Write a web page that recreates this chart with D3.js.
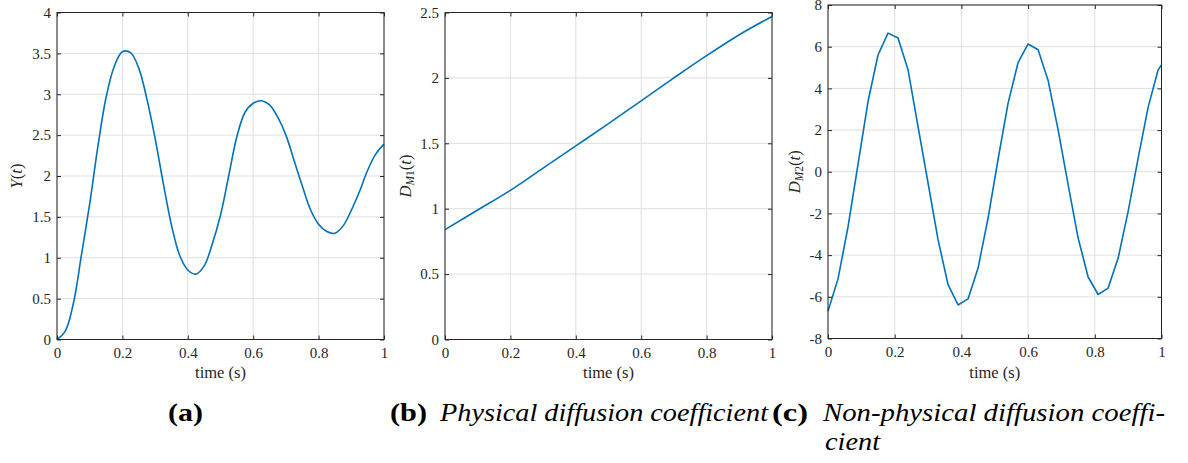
<!DOCTYPE html>
<html>
<head>
<meta charset="utf-8">
<script src="https://cdnjs.cloudflare.com/ajax/libs/d3/7.8.5/d3.min.js"></script>
<style>
  body { margin: 0; background: #fff; }
  svg { display: block; }
  text { font-family: "Liberation Serif", serif; fill: #262626; }
</style>
</head>
<body>
<div id="chart"></div>
<script>
// values
var timeA = [0, 0.025, 0.05, 0.075, 0.1, 0.125, 0.15, 0.175, 0.2, 0.225, 0.25, 0.275, 0.3, 0.325, 0.35, 0.375,
             0.4, 0.425, 0.45, 0.475, 0.5, 0.525, 0.55, 0.575, 0.6, 0.625, 0.65, 0.675, 0.7, 0.725, 0.75, 0.775,
             0.8, 0.825, 0.85, 0.875, 0.9, 0.925, 0.95, 0.975, 1];
var yOfT = [0, 0.1, 0.44, 1.04, 1.66, 2.36, 2.96, 3.34, 3.52, 3.51, 3.32, 2.94, 2.46, 1.91, 1.40, 1.03,
            0.85, 0.80, 0.90, 1.17, 1.52, 2.0, 2.48, 2.78, 2.89, 2.92, 2.87, 2.72, 2.50, 2.19, 1.88, 1.59,
            1.41, 1.32, 1.30, 1.39, 1.58, 1.81, 2.07, 2.27, 2.39];

var timeB = [0, 0.1, 0.2, 0.3, 0.4, 0.5, 0.6, 0.7, 0.8, 0.9, 1];
var dM1 = [0.84, 0.99, 1.14, 1.31, 1.48, 1.65, 1.825, 2.0, 2.17, 2.33, 2.47];

var timeC = [0, 0.03, 0.06, 0.09, 0.12, 0.15, 0.18, 0.21, 0.24, 0.27, 0.30, 0.33, 0.36, 0.39, 0.42, 0.45,
             0.48, 0.51, 0.54, 0.57, 0.60, 0.63, 0.66, 0.69, 0.72, 0.75, 0.78, 0.81, 0.84, 0.87, 0.90, 0.93,
             0.96, 0.99, 1];
var dM2 = [-6.69, -5.14, -2.65, 0.35, 3.37, 5.6, 6.65, 6.42, 4.89, 2.17, -0.54, -3.26, -5.42, -6.39, -6.1, -4.62,
           -2.22, 0.6, 3.29, 5.24, 6.13, 5.85, 4.38, 2.01, -0.62, -3.18, -5.05, -5.89, -5.58, -4.14, -1.9, 0.65,
           3.1, 4.89, 5.13];

var timeTicks = [0, 0.2, 0.4, 0.6, 0.8, 1];
var ticksA = [0, 0.5, 1, 1.5, 2, 2.5, 3, 3.5, 4];
var ticksB = [0, 0.5, 1, 1.5, 2, 2.5];
var ticksC = [-8, -6, -4, -2, 0, 2, 4, 6, 8];

var width = 1188, height = 463;
var lineColor = "#0072bd";
var serif = "Liberation Serif";

var svg = d3.select("#chart").append("svg")
    .attr("width", width)
    .attr("height", height);

var panels = [
  {left: 57, right: 384, top: 12.5, bottom: 339.5, t: timeA, v: yOfT, yDom: [0, 4], yTicks: ticksA,
   smooth: true, labelX: 22, ylab: "Y"},
  {left: 445, right: 772, top: 12.5, bottom: 339.5, t: timeB, v: dM1, yDom: [0, 2.5], yTicks: ticksB,
   smooth: true, labelX: 411, ylab: "D", sub: "1"},
  {left: 828, right: 1161.5, top: 5, bottom: 338.5, t: timeC, v: dM2, yDom: [-8, 8], yTicks: ticksC,
   smooth: false, labelX: 800, ylab: "D", sub: "2"}
];

panels.forEach(function(p) {
  var x = d3.scaleLinear().domain([0, 1]).range([p.left, p.right]);
  var y = d3.scaleLinear().domain(p.yDom).range([p.bottom, p.top]);
  var g = svg.append("g");

  // grid
  g.selectAll(".vgrid").data(timeTicks).enter().append("line")
    .attr("x1", function(d) { return x(d); }).attr("x2", function(d) { return x(d); })
    .attr("y1", p.top).attr("y2", p.bottom)
    .attr("stroke", "#dfdfdf").attr("stroke-width", 1);
  g.selectAll(".hgrid").data(p.yTicks).enter().append("line")
    .attr("y1", function(d) { return y(d); }).attr("y2", function(d) { return y(d); })
    .attr("x1", p.left).attr("x2", p.right)
    .attr("stroke", "#dfdfdf").attr("stroke-width", 1);

  // data line
  var line = d3.line()
    .x(function(d, i) { return x(p.t[i]); })
    .y(function(d) { return y(d); })
    .curve(p.smooth ? d3.curveCatmullRom.alpha(0.5) : d3.curveLinear);
  g.append("path")
    .datum(p.v)
    .attr("d", line)
    .attr("fill", "none")
    .attr("stroke", lineColor)
    .attr("stroke-width", 1.6)
    .attr("stroke-linejoin", "round");

  // axes, ticks pointing inward on all four sides
  var fmt = function(d) { return String(d); };
  var bottom = g.append("g").attr("transform", "translate(0," + p.bottom + ")")
    .call(d3.axisBottom(x).tickValues(timeTicks).tickFormat(fmt).tickSizeInner(-4).tickSizeOuter(0).tickPadding(8));
  var left = g.append("g").attr("transform", "translate(" + p.left + ",0)")
    .call(d3.axisLeft(y).tickValues(p.yTicks).tickFormat(fmt).tickSizeInner(-4).tickSizeOuter(0).tickPadding(6));
  var top = g.append("g").attr("transform", "translate(0," + p.top + ")")
    .call(d3.axisTop(x).tickValues(timeTicks).tickFormat("").tickSizeInner(-4).tickSizeOuter(0));
  var right = g.append("g").attr("transform", "translate(" + p.right + ",0)")
    .call(d3.axisRight(y).tickValues(p.yTicks).tickFormat("").tickSizeInner(-4).tickSizeOuter(0));
  [bottom, left, top, right].forEach(function(a) {
    a.attr("font-family", null);
    a.select(".domain").remove();
    a.selectAll("line").attr("stroke", "#262626");
    a.selectAll("text").style("font-family", serif).attr("font-size", 15).attr("fill", "#262626");
  });

  g.append("rect")
    .attr("x", p.left).attr("y", p.top)
    .attr("width", p.right - p.left).attr("height", p.bottom - p.top)
    .attr("fill", "none").attr("stroke", "#262626").attr("stroke-width", 1);

  // axis labels
  g.append("text")
    .attr("x", (p.left + p.right) / 2).attr("y", 378)
    .attr("text-anchor", "middle").attr("font-size", 16.5)
    .style("font-family", serif)
    .text("time (s)");

  var yl = g.append("text")
    .attr("transform", "translate(" + p.labelX + "," + ((p.top + p.bottom) / 2) + ") rotate(-90)")
    .attr("text-anchor", "middle").attr("font-size", 16.5)
    .style("font-family", serif);
  yl.append("tspan").attr("font-style", "italic").text(p.ylab);
  if (p.sub) {
    yl.append("tspan").attr("font-style", "italic").attr("font-size", 11.5).attr("dy", 3).text("M");
    yl.append("tspan").attr("font-size", 11.5).text(p.sub);
    yl.append("tspan").attr("dy", -3).text("(");
  } else {
    yl.append("tspan").text("(");
  }
  yl.append("tspan").attr("font-style", "italic").text("t");
  yl.append("tspan").text(")");
});

// sub-figure captions
function caption(txt, x0, x1, yb, bold, italic) {
  svg.append("text")
    .attr("x", x0).attr("y", yb)
    .attr("font-size", 26)
    .attr("font-weight", bold ? "bold" : "normal")
    .attr("font-style", italic ? "italic" : "normal")
    .style("font-family", serif)
    .style("fill", "#000")
    .attr("textLength", x1 - x0)
    .attr("lengthAdjust", "spacingAndGlyphs")
    .text(txt);
}
caption("(a)", 168, 203, 421, true, false);
caption("(b)", 390, 427, 421, true, false);
caption("Physical diffusion coefficient", 440, 768, 421, false, true);
caption("(c)", 772, 808, 421, true, false);
caption("Non-physical diffusion coeffi-", 823, 1165, 421, false, true);
caption("cient", 825, 880, 450, false, true);
</script>
</body>
</html>
